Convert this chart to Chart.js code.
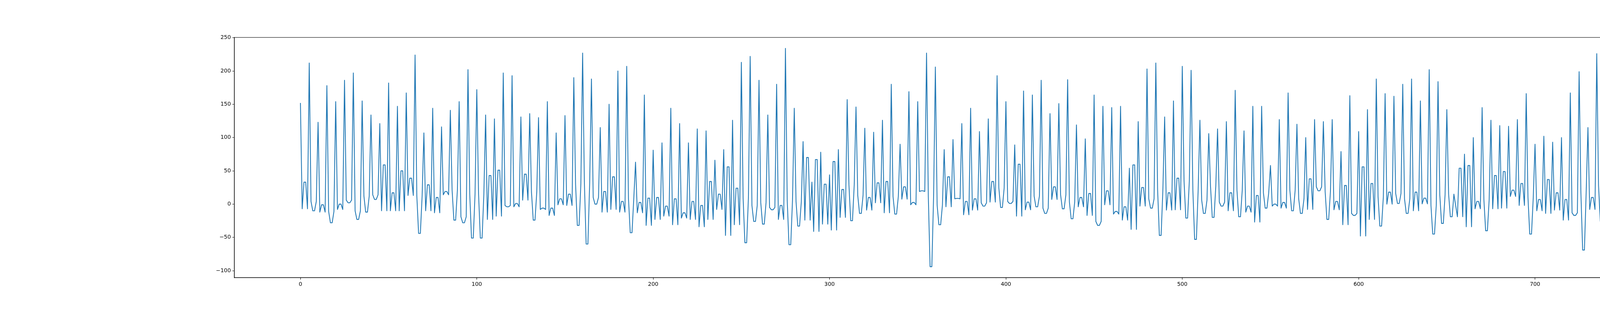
<!DOCTYPE html>
<html>
<head>
<meta charset="utf-8">
<script src="https://cdn.jsdelivr.net/npm/chart.js@4.4.1/dist/chart.umd.min.js"></script>
<style>
  html, body { margin: 0; padding: 0; background: #fff; }
  canvas { display: block; }
</style>
</head>
<body>
<canvas id="series" width="4800" height="800"></canvas>
<script>
// values, one per step (index 0..749)
const values = [
  152, -7, 33, 33, -7, 212, 4, -10, -10, 4, 123, -12, -1, -1, -12, 178, -11, -28, -28, -11, 154, -8, 0, 0, -8,
  186, 6, 2, 2, 6, 197, -10, -23, -23, -10, 155, 12, -12, -12, 12, 134, 14, 7, 7, 14, 121, -10, 59, 59, -10,
  182, -10, 17, 17, -10, 147, -10, 50, 50, -10, 167, 13, 39, 39, 13, 224, 12, -44, -44, 12, 107, -10, 29, 29, -10,
  144, -13, 10, 10, -13, 116, 14, 19, 19, 14, 141, 21, -24, -24, 21, 154, -19, -28, -28, -19, 202, 15, -51, -51, 15,
  172, 15, -51, -51, 15, 134, -23, 43, 43, -23, 128, -18, 51, 51, -18, 197, -2, -4, -4, -2, 193, -4, 1, 1, -4,
  131, 6, 45, 45, 6, 136, 18, -24, -24, 18, 130, -8, -6, -6, -8, 154, -17, -6, -6, -17, 107, -1, 8, 8, -1,
  133, -2, 15, 15, -2, 190, 30, -32, -32, 30, 227, 32, -60, -60, 32, 188, 10, 0, 0, 10, 115, -12, 19, 19, -12,
  150, -8, 41, 41, -8, 200, -12, 4, 4, -12, 207, 8, -43, -43, 8, 63, -13, 2.5, 2.5, -13, 164, -32, 9, 9, -32,
  81, -23, 10, 10, -23, 92, -18, -3, -3, -18, 144, -31, 8, 8, -31, 121, -21, -13, -13, -21, 92, -23, 4, 4, -23,
  113, -34, -2, -2, -34, 110, -23, 34, 34, -23, 66, -8, 15, 15, -8, 82, -47, 56, 56, -47, 126, -31, 24, 24, -31,
  213, 9, -58, -58, 9, 222, -2, -26, -26, -2, 186, 2.5, -30, -30, 2.5, 134, -5, -8.5, -8.5, -5, 180, -23, -2, -2, -23,
  234, 6, -61, -61, 6, 144, 4, -33, -33, 4, 94, -24, 70, 70, -24, 33, -41, 67, 67, -41, 78, -30, 30, 30, -30,
  44, -39, 64, 64, -39, 82, -20, 22, 22, -20, 157, 29, -25, -25, 29, 146, 13, -14, -14, 13, 114, -9, 10, 10, -9,
  108, 2, 32, 32, 2, 126, -13, 34, 34, -13, 180, 11.5, -15, -15, 11.5, 90, 7.5, 26, 26, 7.5, 169, -1, 2.5, 2.5, -1,
  154, 19, 20, 20, 19, 227, 12, -94, -94, 12, 206, -1.4, -31, -31, -1.4, 82, -4, 41, 41, -4, 97, 8, 8.6, 8.6, 8,
  121, -16, 4, 4, -16, 144, -9, 8, 8, -9, 109, 2, -3, -3, 2, 128, 3, 34, 34, 3, 193, 24, -5, -5, 24,
  154, 4, 1, 1, 4, 89, -18, 60, 60, -18, 170, -8.5, 3, 3, -8.5, 164, 12, -4, -4, 12, 186, -6, -14, -14, -6,
  136, 7, 26, 26, 7, 151, 14, -7, -7, 14, 187, 3, -22, -22, 3, 119, -4, 10, 10, -4, 98, -17, 16, 16, -17,
  164, -26, -32, -32, -26, 147, -1, 20, 20, -1, 145, -15, -11, -11, -15, 147, -24, -4, -4, -24, 54, -38, 59, 59, -38,
  124, -3, 25, 25, -3, 203, 8, -6, -6, 8, 212, 22, -47, -47, 22, 131, -9, 17, 17, -9, 155, -8.5, 39, 39, -8.5,
  207, 35, -21, -21, 35, 201, 21, -53, -53, 21, 126, 6, -14, -14, 6, 106, 27, -20, -20, 27, 113, 3, -3, -3, 3,
  124, -10, 17, 17, -10, 171, 21, -19, -19, 21, 110, -12, -3, -3, -12, 147, -27, 13, 13, -27, 147, 17, -6, -6, 17,
  58, -3, 0, 0, -3, 127, -6, 2.5, 2.5, -6, 167, 21, -10, -10, 21, 120, 8, -14, -14, 8, 100, -8, 38, 38, -8,
  127, 26, 20, 20, 26, 124, 19, -23, -23, 19, 127, -8.5, 4, 4, -8.5, 79, -31, 28, 28, -31, 163, -14, -17, -17, -14,
  109, -48, 56, 56, -48, 142, -23, 31, 31, -23, 188, 11, -33, -33, 11, 166, 0, 18, 18, 0, 162, 16, 1, 1, 16,
  180, 8, -14, -14, 8, 188, -10, 18, 18, -10, 155, 0.4, 9, 9, 0.4, 202, -2, -45, -45, -2, 184, 14, -29, -29, 14,
  142, 15, -19, -19, 15, -2, -19, 54, 54, -19, 75, -34, 58, 58, -34, 100, -7, 4, 4, -7, 145, 7, -40, -40, 7,
  126, -7, 43, 43, -7, 118, -6, 49, 49, -6, 117, 11.5, 21, 21, 11.5, 127, -2, 31, 31, -2, 166, 10, -45, -45, 10,
  90, -10, 7, 7, -10, 102, -14, 37, 37, -14, 93, -9, 17, 17, -9, 100, -24, 7, 7, -24, 167, -13, -17, -17, -13,
  199, 18, -69, -69, 18, 115, -8, 10, 10, -8, 226, 28, -26, -26, 28, 173, 27, 7, 7, 27, 61, -8, 46, 46, -8
];

const xTicks = [0, 100, 200, 300, 400, 500, 600, 700];
const yTicks = [-100, -50, 0, 50, 100, 150, 200, 250];

const lineColor = '#1f77b4';
const tickFont = { family: 'DejaVu Sans', size: 13.9 };

function minusSign(v) {
  return v < 0 ? '\u2212' + Math.abs(v) : String(v);
}

// matplotlib draws all four spines, Chart.js only the axis sides
const frame = {
  id: 'frame',
  afterDatasetsDraw(chart) {
    const a = chart.chartArea;
    const ctx = chart.ctx;
    ctx.save();
    ctx.strokeStyle = '#000';
    ctx.lineWidth = 1.1;
    ctx.strokeRect(a.left, a.top, a.right - a.left, a.bottom - a.top);
    ctx.restore();
  }
};

new Chart(document.getElementById('series'), {
  type: 'line',
  data: {
    datasets: [{
      data: values.map((v, i) => ({ x: i, y: v })),
      borderColor: lineColor,
      borderWidth: 2.1,
      borderJoinStyle: 'round',
      pointRadius: 0,
      tension: 0,
      fill: false
    }]
  },
  options: {
    responsive: false,
    animation: false,
    devicePixelRatio: 1,
    layout: { padding: { top: 96, right: 480, left: 0, bottom: 0 } },
    plugins: { legend: { display: false }, tooltip: { enabled: false } },
    scales: {
      x: {
        type: 'linear',
        min: -37.45,
        max: 786.45,
        afterFit: (scale) => { scale.height = 88; },
        afterBuildTicks: (scale) => { scale.ticks = xTicks.map(v => ({ value: v })); },
        ticks: { color: '#000', font: tickFont, padding: 4, maxRotation: 0, callback: (v) => minusSign(v) },
        grid: { drawOnChartArea: false, drawTicks: true, tickLength: 5, tickWidth: 1.1, tickColor: '#000' },
        border: { display: true, color: '#000', width: 1.1 }
      },
      y: {
        type: 'linear',
        min: -110.5,
        max: 250.4,
        afterFit: (scale) => { scale.width = 600; },
        afterBuildTicks: (scale) => { scale.ticks = yTicks.map(v => ({ value: v })); },
        ticks: { color: '#000', font: tickFont, padding: 4, callback: (v) => minusSign(v) },
        grid: { drawOnChartArea: false, drawTicks: true, tickLength: 5, tickWidth: 1.1, tickColor: '#000' },
        border: { display: true, color: '#000', width: 1.1 }
      }
    }
  },
  plugins: [frame]
});
</script>
</body>
</html>
